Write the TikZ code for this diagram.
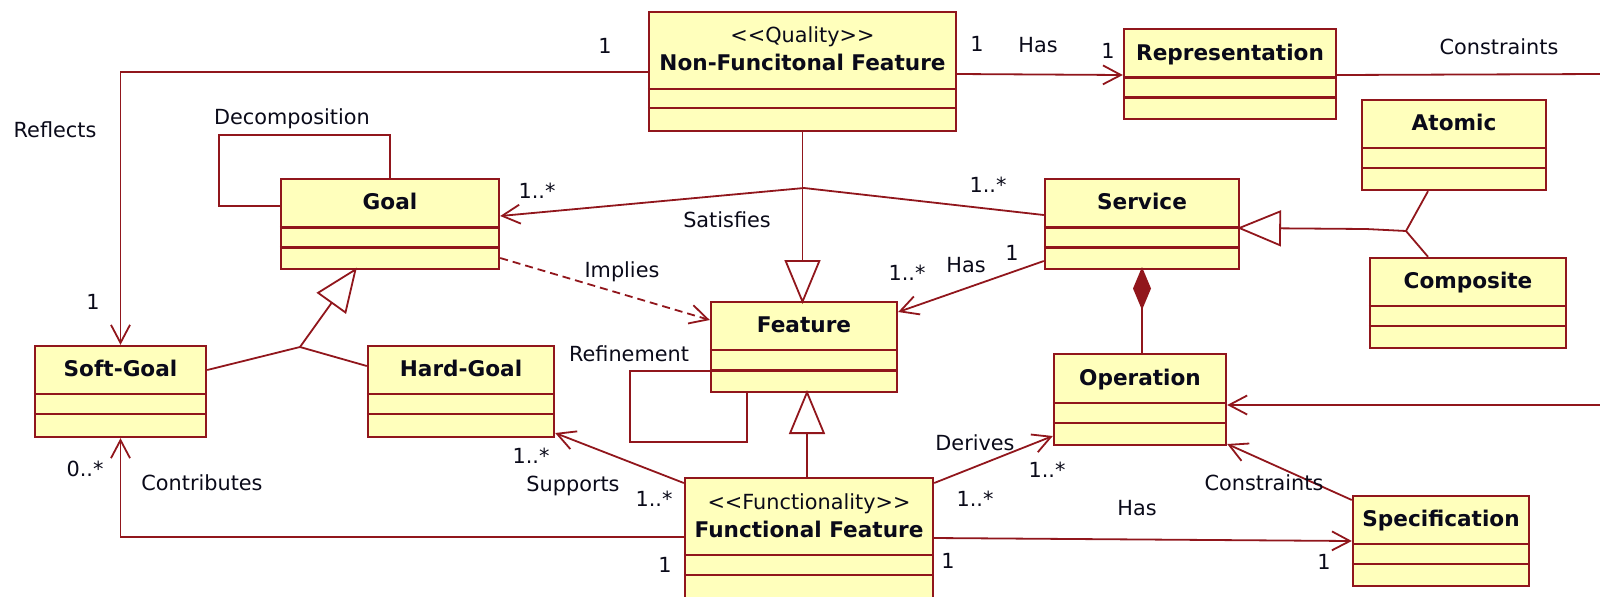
\documentclass[tikz,border=0pt]{standalone}
\usepackage{fontspec}
\setmainfont{DejaVu Sans}
\usetikzlibrary{arrows.meta,fit}

\definecolor{umlline}{RGB}{145,22,28}
\definecolor{umlfill}{RGB}{255,255,188}
\definecolor{umltext}{RGB}{10,10,25}

\newcommand\clsfont{\fontsize{10.8}{13}\selectfont\bfseries}
\newcommand\lblfont{\fontsize{10.4}{12.5}\selectfont}
% guillemet-free stereotype brackets
\newcommand\stereotype[1]{<\kern0pt<#1>\kern0pt>}

% class box: name, left, top, right, bottom, first divider, second divider
\newcommand\umlbox[7]{%
  \node[clsbox, fit={(#2,#3) (#4,#5)}] (#1) {};
  \draw[divider] (#1.west |- 0,#6) -- (#1.east |- 0,#6);
  \draw[divider] (#1.west |- 0,#7) -- (#1.east |- 0,#7);
}

\begin{document}
\begin{tikzpicture}[x=0.5pt, y=-0.5pt,
  clsbox/.style={draw=umlline, fill=umlfill, line width=1.2pt, inner sep=0pt},
  divider/.style={umlline, line width=1.2pt},
  clsname/.style={font=\clsfont, text=umltext, inner sep=0pt, text height=7.9pt, text depth=0pt},
  lbl/.style={font=\lblfont, text=umltext, inner sep=0pt, text height=7.6pt, text depth=0pt},
  conn/.style={umlline, line width=0.9pt},
  nav/.style={conn, -{Straight Barb[length=9pt, width=9.5pt]}},
  dep/.style={nav, dash pattern=on 4pt off 2.5pt},
  gen/.style={conn, shorten >=-1.6pt, -{Triangle[open, length=22pt, width=18pt, fill=white]}},
  comp/.style={conn, shorten <=-1.6pt, {Diamond[length=21.5pt, width=9pt, fill=umlline]}-},
]
\useasboundingbox (0,0) rectangle (1600,596);

% ---------- classes ----------
\umlbox{NFF}{649}{12}{956}{131}{89}{108}
\node[lbl] (NFF-st) at (NFF.north |- 0,35) {\stereotype{Quality}};
\node[clsname] (NFF-nm) at (NFF.north |- 0,63) {Non-Funcitonal Feature};

\umlbox{Representation}{1124}{29}{1336}{119}{77.5}{97.5}
\node[clsname] (Representation-nm) at (Representation.north |- 0,53) {Representation};

\umlbox{Atomic}{1362}{100}{1546}{190}{148}{168}
\node[clsname] (Atomic-nm) at (Atomic.north |- 0,123) {Atomic};

\umlbox{Service}{1045}{179}{1239}{269}{227.5}{247.5}
\node[clsname] (Service-nm) at (Service.north |- 0,202) {Service};

\umlbox{Composite}{1370}{258}{1566}{348}{306}{326}
\node[clsname] (Composite-nm) at (Composite.north |- 0,281) {Composite};

\umlbox{Goal}{281}{179}{499}{269}{227.5}{247.5}
\node[clsname] (Goal-nm) at (Goal.north |- 0,202) {Goal};

\umlbox{Feature}{711}{302}{897}{392}{350}{370.5}
\node[clsname] (Feature-nm) at (Feature.north |- 0,325) {Feature};

\umlbox{SoftGoal}{35}{346}{206}{437}{394}{414}
\node[clsname] (SoftGoal-nm) at (SoftGoal.north |- 0,369) {Soft-Goal};

\umlbox{HardGoal}{368}{346}{554}{437}{394}{414}
\node[clsname] (HardGoal-nm) at (HardGoal.north |- 0,369) {Hard-Goal};

\umlbox{Operation}{1054}{354}{1226}{445}{403}{423}
\node[clsname] (Operation-nm) at (Operation.north |- 0,378) {Operation};

\umlbox{FF}{685}{478}{933}{612}{555}{575}
\node[lbl] (FF-st) at (FF.north |- 0,502) {\stereotype{Functionality}};
\node[clsname] (FF-nm) at (FF.north |- 0,530) {Functional Feature};

\umlbox{Spec}{1353}{496}{1529}{586}{544}{564}
\node[clsname] (Spec-nm) at (Spec.north |- 0,519) {Specification};

% ---------- free line ends at the border ----------
\coordinate (repout) at (1600,74);
\coordinate (opin) at (1600,405);
\coordinate (goaljoin) at (300,347);
\coordinate (svcjoin) at (1406,231);

% ---------- connectors ----------
% Reflects
\draw[nav] (NFF.west |- 0,72) -| (SoftGoal.north);
% Decomposition (self association)
\draw[conn] (Goal.west |- 0,206) -| (219,135) -| (Goal.north -| 390,0);
% Satisfies
\draw[nav] (Service.west |- 0,215) -- (804,188) -- (Goal.east |- 0,216);
% Non-functional feature specialises Feature
\draw[gen] (NFF.south) -- (NFF.south |- Feature.north);
% Implies
\draw[dep] (Goal.east |- 0,258) -- (Feature.west |- 0,320);
% Service has features
\draw[nav] (Service.west |- 0,261) -- (Feature.east |- 0,312);
% Soft / hard goals specialise Goal
\draw[conn] (SoftGoal.east |- 0,370) -- (goaljoin) -- (HardGoal.west |- 0,366);
\draw[gen] (goaljoin) -- (Goal.south -| 355,0);
% Refinement (self association)
\draw[conn] (Feature.west |- 0,371) -| (630,442) -| (Feature.south -| 747,0);
% Functional feature specialises Feature
\draw[gen] (FF.north -| 807,0) -- (Feature.south -| 807,0);
% Supports
\draw[nav] (FF.west |- 0,483) -- (HardGoal.east |- 0,433);
% Contributes
\draw[nav] (FF.west |- 0,537) -| (SoftGoal.south);
% Derives
\draw[nav] (FF.east |- 0,483) -- (Operation.west |- 0,436);
% Has specification
\draw[nav] (FF.east |- 0,538) -- (Spec.west |- 0,541);
% Constraints
\draw[nav] (Spec.west |- 0,500) -- (Operation.east |- 0,444);
% incoming association on Operation
\draw[nav] (opin) -- (Operation.east |- opin);
% Service is composed of operations
\draw[comp] (Service.south) -- (Service.south |- Operation.north);
% Atomic / composite specialise Service
\draw[conn] (Atomic.south -| 1428,0) -- (svcjoin) -- (Composite.north -| 1428,0);
\draw[gen] (svcjoin) -- (1366,229) -- (Service.east |- 0,228);
% Has representation
\draw[nav] (NFF.east |- 0,74) -- (Representation.west |- 0,75);
% Representation constraints
\draw[conn] (Representation.east |- 0,75) -- (repout);

% ---------- labels ----------
\node[lbl] (m1)  at (605,46)   {1};
\node[lbl] (t1)  at (55,130)   {Reflects};
\node[lbl] (m2)  at (93,302)   {1};
\node[lbl] (t2)  at (292,117)  {Decomposition};
\node[lbl] (m3)  at (537,191)  {1..*};
\node[lbl] (t3)  at (727,220)  {Satisfies};
\node[lbl] (m4)  at (988,185)  {1..*};
\node[lbl] (t4)  at (622,270)  {Implies};
\node[lbl] (m5)  at (907,273)  {1..*};
\node[lbl] (t5)  at (966,265)  {Has};
\node[lbl] (m6)  at (1012,253) {1};
\node[lbl] (m7)  at (977,44)   {1};
\node[lbl] (t6)  at (1038,45)  {Has};
\node[lbl] (m8)  at (1108,51)  {1};
\node[lbl] (t7)  at (1499,47)  {Constraints};
\node[lbl] (t8)  at (629,354)  {Refinement};
\node[lbl] (m9)  at (85,469)   {0..*};
\node[lbl] (t9)  at (202,483)  {Contributes};
\node[lbl] (m10) at (531,456)  {1..*};
\node[lbl] (t10) at (573,484)  {Supports};
\node[lbl] (m11) at (654,499)  {1..*};
\node[lbl] (m12) at (665,565)  {1};
\node[lbl] (t11) at (975,443)  {Derives};
\node[lbl] (m13) at (1047,470) {1..*};
\node[lbl] (m14) at (975,499)  {1..*};
\node[lbl] (t12) at (1137,508) {Has};
\node[lbl] (t13) at (1264,483) {Constraints};
\node[lbl] (m15) at (948,561)  {1};
\node[lbl] (m16) at (1324,562) {1};
\end{tikzpicture}
\end{document}
